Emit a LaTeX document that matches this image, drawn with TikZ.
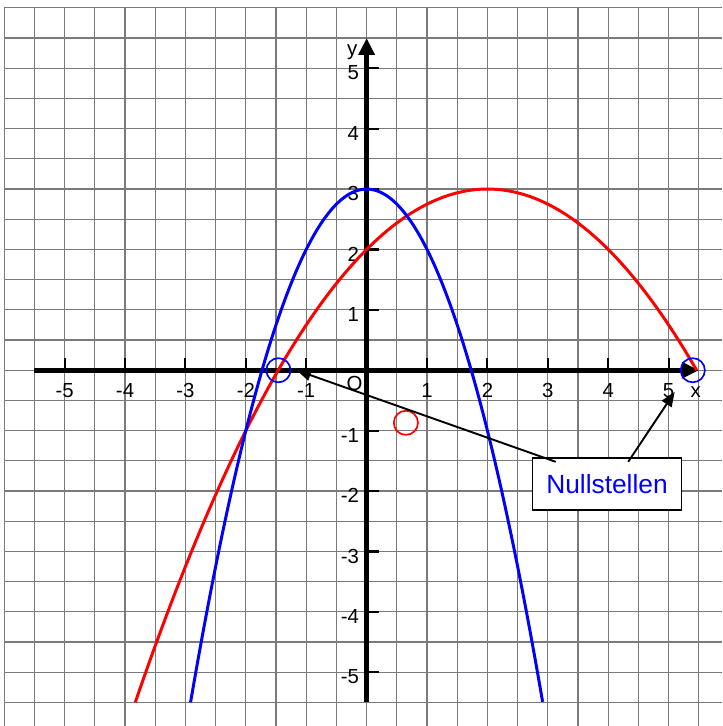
\documentclass[tikz,border=0pt]{standalone}
\usepackage{fontspec}
\setmainfont{Liberation Sans}
\usetikzlibrary{arrows.meta,positioning,calc}
\definecolor{cGrid}{HTML}{7A7A7A}
\definecolor{cRed} {HTML}{FF0000}
\definecolor{cBlue}{HTML}{0000FF}
\tikzset{
  gridln/.style ={draw=cGrid,line width=0.55pt},
  axis/.style   ={draw=black,line width=2.4pt,
                  -{Triangle[length=2.8mm,width=2.6mm]}},
  tickmk/.style ={draw=black,line width=1pt},
  num/.style    ={font=\fontsize{9.6}{11}\selectfont,inner sep=0pt},
  curve/.style  ={line width=1.4pt,smooth,samples=90},
  mark0/.style  ={line width=0.8pt},
  nbox/.style   ={draw=black,fill=white,line width=0.8pt,text=cBlue,
                  font=\fontsize{12.4}{14}\selectfont,
                  minimum width=2.47cm,minimum height=0.86cm},
  ptr/.style    ={-{Triangle[length=2.4mm,width=1.9mm]},draw=black,line width=0.9pt},
}

\begin{document}
\begin{tikzpicture}[x=1cm, y=1cm]
\useasboundingbox (-6.07,-5.89) rectangle (5.89,6.13);

% squared paper
\draw[gridln] (-6,-5.89) grid[step=0.5] (5.89,6);

% axes
\draw[axis] (-5.5,0) -- (5.5,0);
\draw[axis] (0,-5.5) -- (0,5.5);
\node[num] (xlab) at (5.45,-0.37) {x};
\node[num] (ylab) at (-0.24,5.27) {y};
\node[num] (orig) at (-0.2,-0.22) {O};

\foreach \k in {-5,-4,-3,-2,-1,1,2,3,4,5}{
  \draw[tickmk] (\k,-0.05) -- (\k,0.2);
  \node[num] (xt\k) at (\k,-0.34) {\k};
  \draw[tickmk] (0,\k) -- (0.2,\k);
  \node[num,anchor=east] (yt\k) at (-0.12,\k-0.08) {\k};
}

% f(x) = -(x-2)^2/4 + 3
\draw[curve,draw=cRed] plot[domain=-3.83:5.464] (\x,{3-(\x-2)^2/4});
% g(x) = 3 - x^2
\draw[curve,draw=cBlue] plot[domain=-2.915:2.915] (\x,{3-\x*\x});

% circled points
\draw[mark0,draw=cBlue] (-1.46,0) circle (0.2);
\draw[mark0,draw=cBlue] (5.4,0) circle (0.2);
\draw[mark0,draw=cRed] (0.65,-0.87) circle (0.2);

% label with pointers
\coordinate (zA) at (-1.16,0);
\coordinate (zB) at (5.1,-0.36);
\node[nbox] (nst) at (3.98,-1.88) {Nullstellen};
\draw[ptr] ([shift={(0.4,-0.08)}]nst.north west) -- (zA);
\draw[ptr] ([shift={(1.6,-0.08)}]nst.north west) -- (zB);
\end{tikzpicture}
\end{document}
